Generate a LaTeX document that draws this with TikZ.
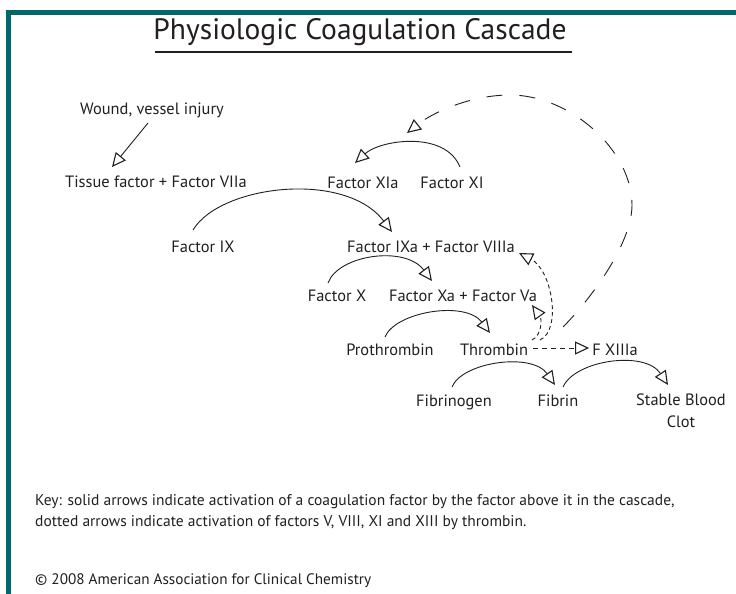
\documentclass[tikz,border=0pt]{standalone}
\usepackage{fontspec}
\setmainfont{PT Sans}
\usetikzlibrary{arrows.meta}
\definecolor{ink}{HTML}{231F20}
\definecolor{frame}{RGB}{0,104,104}
\tikzset{
  lbl/.style={font=\fontsize{16.4}{19}\selectfont, inner sep=0pt, anchor=base, text=ink},
  act/.style={draw=ink, line width=0.9pt, -{Triangle[open,length=14pt,width=13pt,line width=1.1pt]}},
  dotact/.style={act, dash pattern=on 4pt off 3pt},
  meddash/.style={act, dash pattern=on 5pt off 4pt},
  bigdash/.style={act, dash pattern=on 16pt off 17pt},
}
\begin{document}
\begin{tikzpicture}[x=1pt,y=-1pt]
\useasboundingbox (0,0) rectangle (736,594);
\fill[white] (0,0) rectangle (736,594);
\fill[frame] (6,10) rectangle (736,15);
\fill[frame] (6,10) rectangle (11,594);

\node[anchor=base, inner sep=0pt, font=\fontsize{29.5}{34}\selectfont, text=ink] (title) at (360,40) {Physiologic Coagulation Cascade};
\draw[ink, line width=1.2pt] (155,52) -- (572,52);

\node[lbl] (wound) at (152,114) {Wound, vessel injury};
\node[lbl] (tf) at (156,187) {Tissue factor + Factor VIIa};
\node[lbl] (xia) at (363,188) {Factor XIa};
\node[lbl] (xi) at (452,188) {Factor XI};
\node[lbl] (ix) at (203,252) {Factor IX};
\node[lbl] (ixa) at (431,252) {Factor IXa + Factor VIIIa};
\node[lbl] (fx) at (337,301) {Factor X};
\node[lbl] (xa) at (463,301) {Factor Xa + Factor Va};
\node[lbl] (pro) at (390,355) {Prothrombin};
\node[lbl] (thr) at (494,355) {Thrombin};
\node[lbl] (f13) at (615,355) {F XIIIa};
\node[lbl] (fbg) at (454,406) {Fibrinogen};
\node[lbl] (fib) at (558,406) {Fibrin};
\node[lbl, anchor=north, align=center, font=\fontsize{16.4}{22}\selectfont] (clot) at (681,394) {Stable Blood\\Clot};

\node[anchor=north west, inner sep=0pt, align=left, text=ink, font=\fontsize{15.5}{21}\selectfont] (key) at (35,494)
  {Key: solid arrows indicate activation of a coagulation factor by the factor above it in the cascade,\\dotted arrows indicate activation of factors V, VIII, XI and XIII by thrombin.};
\node[anchor=base west, inner sep=0pt, text=ink, font=\fontsize{15.2}{18}\selectfont] (copy) at (35,584)
  {\textcopyright{} 2008 American Association for Clinical Chemistry};

% wound -> tissue factor
\draw[act] ([shift={(-4,9)}]wound.base) -- ([shift={(-44,-20)}]tf.base);

% XI -> XIa
\coordinate (s1) at ([shift={(8,-21)}]xi.base);
\coordinate (e1) at ([shift={(-8,-25)}]xia.base);
\draw[act] (s1) .. controls ([shift={(-15,-37)}]s1) and ([shift={(25,-23)}]e1) .. (e1);

% IX -> IXa
\coordinate (s2) at ([shift={(-10,-22)}]ix.base);
\coordinate (e2) at ([shift={(-39,-20)}]ixa.base);
\draw[act] (s2) .. controls ([shift={(27,-45)}]s2) and ([shift={(-47,-62)}]e2) .. (e2);

% X -> Xa
\coordinate (s3) at ([shift={(-9,-18)}]fx.base);
\coordinate (e3) at ([shift={(-31,-20)}]xa.base);
\draw[act] (s3) .. controls ([shift={(10,-28)}]s3) and ([shift={(-27,-36)}]e3) .. (e3);

% Prothrombin -> Thrombin
\coordinate (s4) at ([shift={(-5,-18)}]pro.base);
\coordinate (e4) at ([shift={(-4,-22)}]thr.base);
\draw[act] (s4) .. controls ([shift={(10,-25)}]s4) and ([shift={(-25,-33)}]e4) .. (e4);

% Fibrinogen -> Fibrin
\coordinate (s5) at ([shift={(-2,-19)}]fbg.base);
\coordinate (e5) at ([shift={(-3,-21)}]fib.base);
\draw[act] (s5) .. controls ([shift={(10,-25)}]s5) and ([shift={(-23,-33)}]e5) .. (e5);

% Fibrin -> Stable Blood Clot
\coordinate (s6) at ([shift={(5,-19)}]fib.base);
\coordinate (e6) at ([shift={(-13,-9)}]clot.north);
\draw[act] (s6) .. controls ([shift={(12,-27)}]s6) and ([shift={(-23,-35)}]e6) .. (e6);

% Thrombin -> F XIIIa
\draw[meddash] ([shift={(5,-7)}]thr.base east) -- ([shift={(-3,-7)}]f13.base west);

% Thrombin -> Va
\coordinate (s7) at ([shift={(38,-15)}]thr.base);
\coordinate (e7) at ([shift={(69,4)}]xa.base);
\draw[dotact] (s7) .. controls ([shift={(10,-5)}]s7) and ([shift={(10,14)}]e7) .. (e7);

% Thrombin -> VIIIa
\coordinate (s8) at ([shift={(46,-15)}]thr.base);
\coordinate (e8) at ([shift={(88,1)}]ixa.base);
\draw[dotact] (s8) .. controls ([shift={(22,-10)}]s8) and ([shift={(33,17)}]e8) .. (e8);

% Thrombin -> XI (big dashed loop)
\coordinate (bs) at ([shift={(69,-28)}]thr.base);
\coordinate (bR) at (632,205);
\coordinate (bT) at (510,95);
\coordinate (be) at ([shift={(44,-55)}]xia.base);
\draw[bigdash] (bs) .. controls ([shift={(25,-25)}]bs) and ([shift={(0,40)}]bR) .. (bR)
  .. controls ([shift={(0,-55)}]bR) and ([shift={(60,0)}]bT) .. (bT)
  .. controls ([shift={(-40,0)}]bT) and ([shift={(25,-20)}]be) .. (be);
\end{tikzpicture}
\end{document}
